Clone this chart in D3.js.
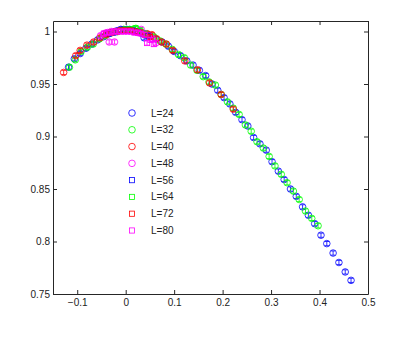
<!DOCTYPE html>
<html><head><meta charset="utf-8">
<script src="https://cdn.jsdelivr.net/npm/d3@7"></script>
<style>body{margin:0;background:#fff}svg{display:block}text{font-family:"Liberation Sans",Arial,sans-serif}</style>
</head><body>
<svg id="c" width="407" height="337"></svg>
<script>
const seriesLabels = ["L=24","L=32","L=40","L=48","L=56","L=64","L=72","L=80"];
const seriesColors = ["#0000ff","#00ff00","#ff0000","#ff00ff","#0000ff","#00ff00","#ff0000","#ff00ff"];
const seriesShapes = ["circle","circle","circle","circle","square","square","square","square"];
const xTicks = [-0.1,0,0.1,0.2,0.3,0.4,0.5];
const xTickLabels = ["\u22120.1","0","0.1","0.2","0.3","0.4","0.5"];
const yTicks = [0.75,0.8,0.85,0.9,0.95,1];
const yTickLabels = ["0.75","0.8","0.85","0.9","0.95","1"];
const errHalf = 0.002;

const x24 = [-0.118,-0.106,-0.094,-0.082,-0.070,-0.058,-0.046,-0.034,-0.022,-0.010,0.002,0.014,0.026,0.038,0.050,0.062,0.075,0.088,0.100,0.113,0.126,0.139,0.152,0.165,0.178,0.190,0.203,0.215,0.227,0.240,0.252,0.264,0.277,0.290,0.302,0.315,0.327,0.340,0.352,0.365,0.377,0.390,0.403,0.415,0.428,0.440,0.453,0.465];
const y24 = [0.966,0.974,0.979,0.984,0.988,0.992,0.995,0.998,1.000,1.002,1.002,1.001,1.000,0.994,0.996,0.993,0.990,0.986,0.981,0.977,0.972,0.968,0.963,0.958,0.950,0.944,0.937,0.931,0.923,0.916,0.910,0.899,0.893,0.887,0.876,0.867,0.859,0.850,0.843,0.833,0.825,0.817,0.806,0.798,0.789,0.780,0.771,0.763];
const x32 = [-0.116,-0.104,-0.092,-0.079,-0.067,-0.054,-0.042,-0.029,-0.017,-0.004,0.008,0.021,0.033,0.046,0.058,0.071,0.083,0.096,0.109,0.121,0.134,0.147,0.160,0.172,0.185,0.197,0.210,0.222,0.234,0.247,0.259,0.271,0.284,0.296,0.308,0.321,0.333,0.346,0.358,0.371,0.384,0.397];
const y32 = [0.966,0.973,0.981,0.985,0.988,0.993,0.996,0.999,1.000,1.002,1.002,1.003,0.999,0.997,0.995,0.991,0.988,0.983,0.978,0.975,0.968,0.963,0.957,0.952,0.949,0.940,0.933,0.927,0.921,0.911,0.905,0.895,0.889,0.881,0.872,0.864,0.856,0.848,0.840,0.829,0.822,0.815];
const x40 = [-0.128,-0.103,-0.094,-0.080,-0.066,-0.053,-0.040,-0.028,-0.016,-0.004,0.008,0.020,0.032,0.044,0.054,0.064,0.074,0.084,0.097,0.122,0.148,0.173,0.197,0.222];
const y40 = [0.961,0.977,0.982,0.987,0.990,0.994,0.997,0.999,1.000,1.001,1.001,1.000,0.999,0.998,0.997,0.993,0.990,0.988,0.982,0.972,0.9635,0.951,0.940,0.926];
const x48 = [-0.052,-0.045,-0.038,-0.034,-0.030,-0.023,-0.022,-0.015,-0.008,0.000,0.008,0.016,0.024,0.032,0.040,0.048,0.055,0.062];
const y48 = [0.996,0.998,0.999,0.990,1.000,0.990,1.000,1.001,1.001,1.001,1.001,1.000,0.999,1.002,0.998,0.996,0.993,0.989];
const x56 = [-0.035,-0.025,-0.015,-0.005,0.005,0.015,0.025,0.035,0.045];
const y56 = [0.998,0.999,1.001,1.002,1.002,1.001,1.000,0.998,0.996];
const x64 = [-0.030,-0.020,-0.010,0.000,0.010,0.020,0.030,0.040];
const y64 = [0.999,1.000,1.001,1.002,1.002,1.003,1.001,0.998];
const x72 = [-0.040,-0.030,-0.020,-0.010,0.000,0.010,0.020,0.030,0.040,0.050];
const y72 = [0.998,0.999,1.000,1.001,1.001,1.001,1.000,0.999,0.997,0.995];
const x80 = [-0.045,-0.038,-0.031,-0.024,-0.017,-0.010,-0.003,0.004,0.011,0.018,0.025,0.032,0.039,0.044,0.051,0.058];
const y80 = [0.998,0.999,0.999,1.000,1.000,1.000,1.000,1.000,1.000,0.999,0.999,0.998,0.997,0.989,0.992,0.988];
const seriesX = [x24,x32,x40,x48,x56,x64,x72,x80];
const seriesY = [y24,y32,y40,y48,y56,y64,y72,y80];

const svg = d3.select("#c");
const m = {l:53, r:368, t:21, b:294};
const x = d3.scaleLinear().domain([-0.15,0.5]).range([m.l,m.r]);
const y = d3.scaleLinear().domain([0.75,1.01]).range([m.b,m.t]);

const plot = svg.append("g");
const R = 3.3, S = 2.6, cap = 2.2;
seriesX.forEach((xs,i)=>{
  const g = plot.append("g").attr("stroke",seriesColors[i]).attr("fill","none").attr("stroke-width",0.8);
  xs.forEach((xv,j)=>{
    const cx = x(xv), cy = y(seriesY[i][j]);
    const y1 = y(seriesY[i][j]-errHalf), y2 = y(seriesY[i][j]+errHalf);
    g.append("path").attr("d",`M${cx},${y1}V${y2}M${cx-cap},${y1}H${cx+cap}M${cx-cap},${y2}H${cx+cap}`);
    if (seriesShapes[i]==="circle") g.append("circle").attr("cx",cx).attr("cy",cy).attr("r",R);
    else g.append("rect").attr("x",cx-S).attr("y",cy-S).attr("width",2*S).attr("height",2*S);
  });
});

const fmtX = d => xTickLabels[xTicks.indexOf(d)];
const fmtY = d => yTickLabels[yTicks.indexOf(d)];
const axCol = "#262626";
function style(g){ g.select(".domain").attr("stroke",axCol); g.selectAll(".tick line").attr("stroke",axCol);
  g.selectAll("text").attr("fill","#222").style("font-size","10px").style("font-family","'Liberation Sans',Arial,sans-serif"); }
svg.append("g").attr("transform",`translate(0,${m.b})`).call(d3.axisBottom(x).tickValues(xTicks).tickFormat(fmtX).tickSizeInner(-4).tickSizeOuter(0).tickPadding(5)).call(style);
svg.append("g").attr("transform",`translate(0,${m.t})`).call(d3.axisTop(x).tickValues(xTicks).tickFormat("").tickSizeInner(-4).tickSizeOuter(0)).call(style);
svg.append("g").attr("transform",`translate(${m.l},0)`).call(d3.axisLeft(y).tickValues(yTicks).tickFormat(fmtY).tickSizeInner(-4).tickSizeOuter(0).tickPadding(3)).call(style);
svg.append("g").attr("transform",`translate(${m.r},0)`).call(d3.axisRight(y).tickValues(yTicks).tickFormat("").tickSizeInner(-4).tickSizeOuter(0)).call(style);
svg.selectAll(".domain").attr("fill","none");

// legend
const lg = svg.append("g");
const ly = d3.scaleLinear().domain([0,7]).range([113,230.5]);
seriesLabels.forEach((lab,i)=>{
  const cy = ly(i), cx = 132;
  const g = lg.append("g").attr("stroke",seriesColors[i]).attr("fill","none").attr("stroke-width",0.8);
  if (seriesShapes[i]==="circle") g.append("circle").attr("cx",cx).attr("cy",cy).attr("r",R);
  else g.append("rect").attr("x",cx-S).attr("y",cy-S).attr("width",2*S).attr("height",2*S);
  lg.append("text").attr("x",151).attr("y",cy).attr("dy","0.35em").attr("fill","#222").style("font-size","10px").text(lab);
});
</script>
</body></html>
